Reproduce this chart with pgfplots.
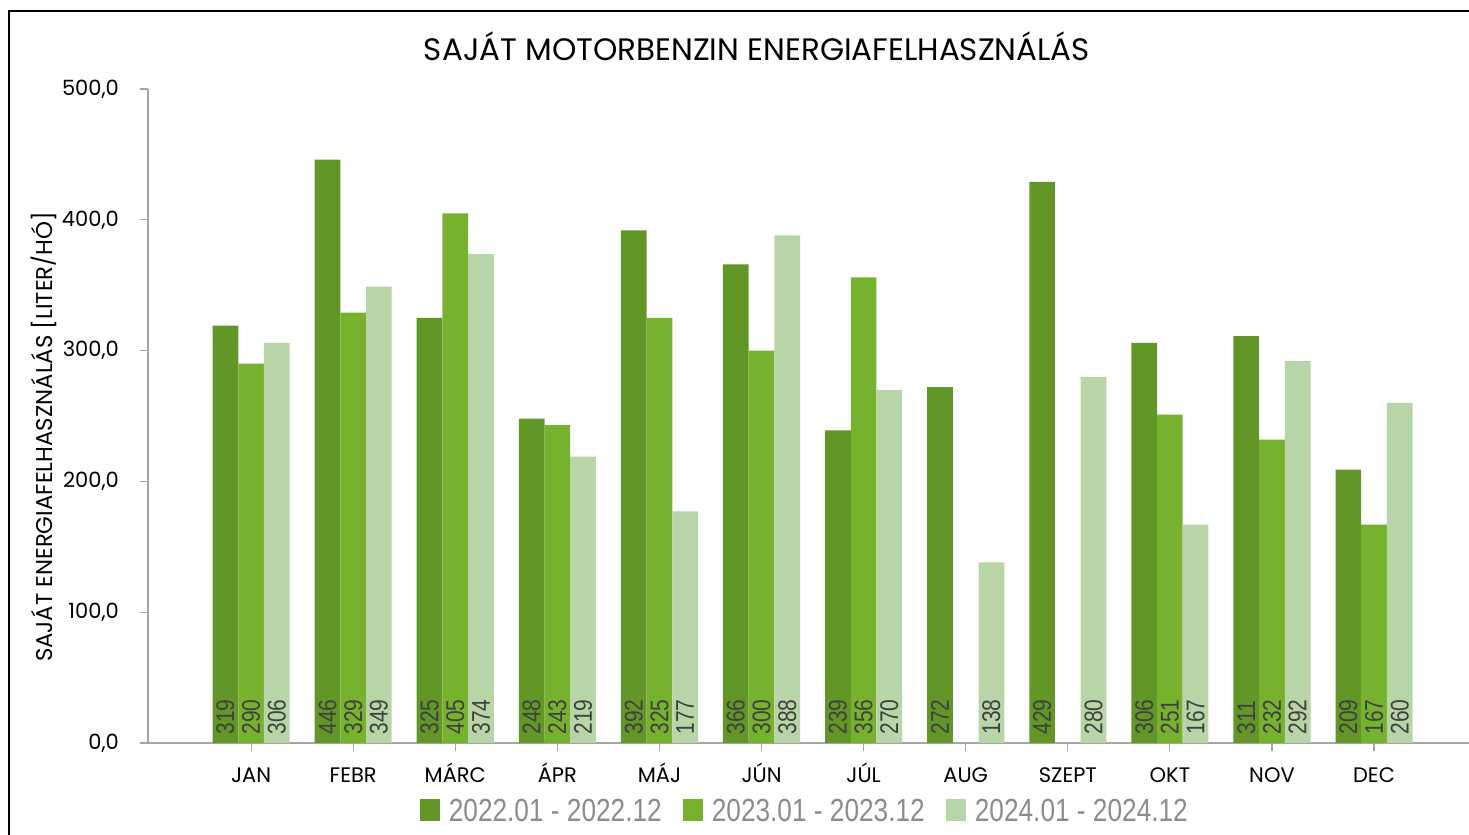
\documentclass[border=0pt]{standalone}
\usepackage{fontspec}
\setmainfont{Poppins}
\newfontfamily\narrow[FakeStretch=0.82]{Liberation Sans}
\usepackage{pgfplots}
\usepackage{pgfplotstable}
\pgfplotsset{compat=1.18}

\definecolor{gA}{RGB}{98,150,38}
\definecolor{gB}{RGB}{118,178,46}
\definecolor{gC}{RGB}{183,213,166}
\definecolor{lbl}{RGB}{64,64,64}
\definecolor{axgray}{RGB}{165,165,165}
\definecolor{leggray}{RGB}{140,140,140}

% month index, 2022, 2023, 2024 (liter/month)
\pgfplotstableread{
x  a    b    c
0  319  290  306
1  446  329  349
2  325  405  374
3  248  243  219
4  392  325  177
5  366  300  388
6  239  356  270
7  272  nan  138
8  429  nan  280
9  306  251  167
10 311  232  292
11 209  167  260
}\fuel

\begin{document}
\begin{tikzpicture}
\useasboundingbox (-74pt,-46pt) rectangle (660.5pt,371.5pt);
\begin{axis}[
    at={(0,0)}, anchor=south west,
    scale only axis,
    width=660.5pt, height=327pt,
    ybar=0pt, bar width=12.85pt,
    xmin=-1.01, xmax=11.93,
    ymin=0, ymax=500,
    enlargelimits=false,
    axis lines*=left,
    axis line style={axgray, line width=0.6pt},
    tick style={axgray, line width=0.6pt},
    tick align=outside,
    major tick length=4pt,
    xtick={0,...,11},
    xticklabels={JAN,FEBR,MÁRC,ÁPR,MÁJ,JÚN,JÚL,AUG,SZEPT,OKT,NOV,DEC},
    x tick label style={font=\fontsize{10.5}{12}\selectfont, anchor=base, yshift=-16pt},
    ytick={0,100,...,500},
    yticklabel={\pgfmathprintnumber[fixed,fixed zerofill,precision=1,use comma,assume math mode=true]{\tick}},
    y tick label style={font=\fontsize{10.5}{12}\selectfont, xshift=-7pt},
    /pgf/number format/assume math mode=true,
    nodes near coords,
    visualization depends on=y \as \rawy,
    every node near coord/.append style={
        shift={(axis direction cs:0,-\rawy)},
        rotate=90, anchor=west, inner xsep=4pt, inner ysep=0pt,
        font=\narrow\fontsize{12.8}{13}\selectfont, text=lbl},
    legend columns=3,
    legend style={at={(0.498,-0.1055)}, anchor=center, draw=none,
        font=\narrow\fontsize{16}{17}\selectfont, text=leggray,
        /tikz/every odd column/.append style={column sep=2.5pt},
        /tikz/every even column/.append style={column sep=8.5pt}},
    legend image code/.code={\fill[#1] (0pt,-4.5pt) rectangle (10pt,6.5pt);},
]
\addplot[fill=gA, draw=none] table[x=x, y=a] {\fuel};
\addplot[fill=gB, draw=none] table[x=x, y=b] {\fuel};
\addplot[fill=gC, draw=none] table[x=x, y=c] {\fuel};
\legend{2022.01 - 2022.12, 2023.01 - 2023.12, 2024.01 - 2024.12}
\end{axis}
\draw[line width=1pt] (-69.5pt,-50pt) -- (-69.5pt,366pt) -- (665pt,366pt);
\node[font=\fontsize{15.5}{18}\selectfont] at (304.5pt,348.5pt) {SAJÁT MOTORBENZIN ENERGIAFELHASZNÁLÁS};
\node[rotate=90, font=\fontsize{11.4}{13}\selectfont] at (-52pt,153pt) {SAJÁT ENERGIAFELHASZNÁLÁS [LITER/HÓ]};
\end{tikzpicture}
\end{document}
